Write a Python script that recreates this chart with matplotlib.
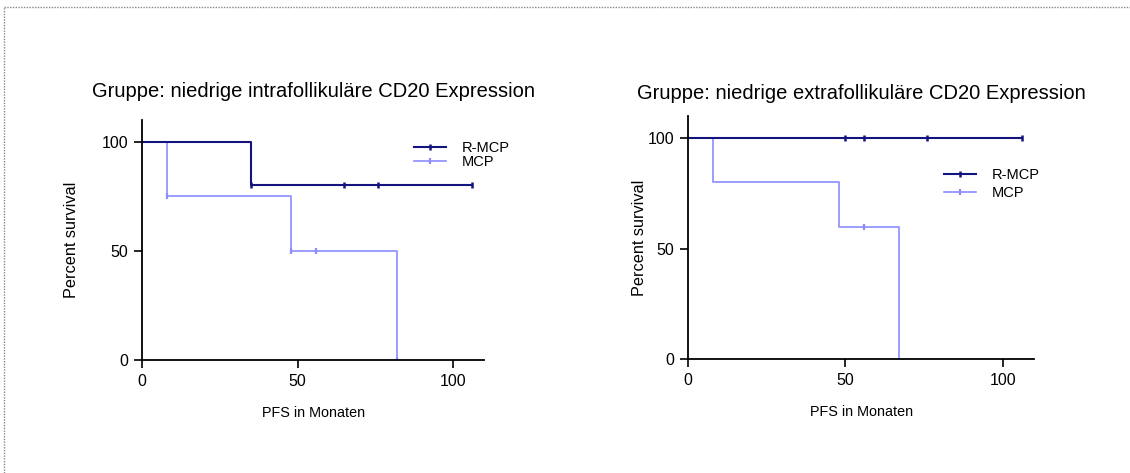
import matplotlib
matplotlib.use("Agg")
import matplotlib.pyplot as plt
from matplotlib.lines import Line2D

plt.rcParams['font.family'] = ['Liberation Sans', 'DejaVu Sans']

# left panel: niedrige intrafollikulaere Expression
left_title = "Gruppe: niedrige intrafollikuläre CD20 Expression"
left_rmcp_t = [0, 35, 106]
left_rmcp_s = [100, 80, 80]
left_rmcp_cens_t = [35, 65, 76, 106]
left_rmcp_cens_s = [80, 80, 80, 80]
left_mcp_t = [0, 8, 48, 82]
left_mcp_s = [100, 75, 50, 0]
left_mcp_cens_t = [8, 48, 56, 82]
left_mcp_cens_s = [75, 50, 50, 0]

# right panel: niedrige extrafollikulaere Expression
right_title = "Gruppe: niedrige extrafollikuläre CD20 Expression"
right_rmcp_t = [0, 106]
right_rmcp_s = [100, 100]
right_rmcp_cens_t = [50, 56, 76, 106]
right_rmcp_cens_s = [100, 100, 100, 100]
right_mcp_t = [0, 8, 48, 67]
right_mcp_s = [100, 80, 60, 0]
right_mcp_cens_t = [56]
right_mcp_cens_s = [60]

ticks = [0, 50, 100]
labels = ["R-MCP", "MCP"]
dark = "#14147f"
light = "#8c8cff"

fig = plt.figure(figsize=(11.3, 4.73), dpi=100)

# dotted frame (top and left)
fig.add_artist(Line2D([4/1130, 1], [1 - 7/473, 1 - 7/473], transform=fig.transFigure,
                      color="#888888", lw=1, ls=(0, (1, 1))))
fig.add_artist(Line2D([4/1130, 4/1130], [0, 1 - 7/473], transform=fig.transFigure,
                      color="#888888", lw=1, ls=(0, (1, 1))))


def panel(rect, title, rt, rs, rct, rcs, mt, ms, mct, mcs, leg_anchor, title_y, ylpad, lspace):
    ax = fig.add_axes(rect)
    ax.step(mt, ms, where='post', color=light, lw=1.2)
    ax.plot(mct, mcs, ls='none', marker='|', ms=5, mew=1.6, color=light)
    ax.step(rt, rs, where='post', color=dark, lw=1.5)
    ax.plot(rct, rcs, ls='none', marker='|', ms=4, mew=1.8, color=dark)
    ax.set_xlim(0, 110)
    ax.set_ylim(0, 110)
    ax.set_xticks(ticks)
    ax.set_yticks(ticks)
    ax.spines['top'].set_visible(False)
    ax.spines['right'].set_visible(False)
    ax.spines['left'].set_linewidth(1.3)
    ax.spines['bottom'].set_linewidth(1.3)
    ax.tick_params(direction='out', length=6, width=1.2, labelsize=11.5, pad=4)
    ax.set_xlabel("PFS in Monaten", fontsize=10.4, labelpad=12)
    ax.set_ylabel("Percent survival", fontsize=11.7, labelpad=ylpad)
    ax.set_title(title, fontsize=14.5, y=title_y, pad=0)
    handles = [Line2D([], [], color=dark, lw=1.5, marker='|', ms=4, mew=1.8),
               Line2D([], [], color=light, lw=1.2, marker='|', ms=5, mew=1.6)]
    ax.legend(handles, labels, loc='upper left', bbox_to_anchor=leg_anchor, frameon=False,
              fontsize=10.5, handlelength=2.2, handletextpad=1.1, labelspacing=lspace,
              borderpad=0, borderaxespad=0, numpoints=1)
    return ax


panel([0.1257, 0.2389, 0.3027, 0.5074], left_title,
      left_rmcp_t, left_rmcp_s, left_rmcp_cens_t, left_rmcp_cens_s,
      left_mcp_t, left_mcp_s, left_mcp_cens_t, left_mcp_cens_s,
      (0.795, 0.9135), 1.097, 16, 0.05)
panel([0.6088, 0.2404, 0.3066, 0.5144], right_title,
      right_rmcp_t, right_rmcp_s, right_rmcp_cens_t, right_rmcp_cens_s,
      right_mcp_t, right_mcp_s, right_mcp_cens_t, right_mcp_cens_s,
      (0.738, 0.786), 1.07, 0, 0.3)

fig.savefig("out.png", dpi=100)
